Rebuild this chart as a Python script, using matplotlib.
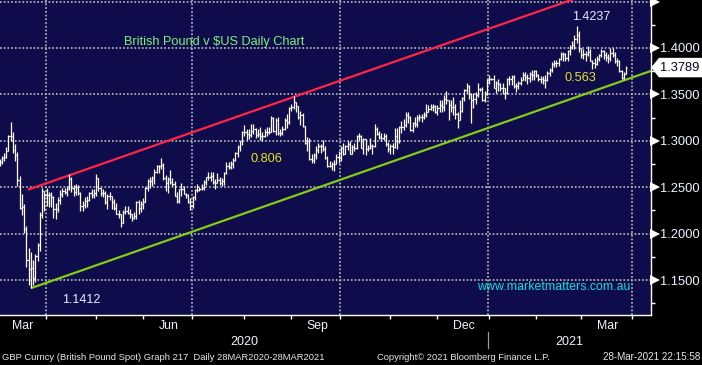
import numpy as np
import pandas as pd
import matplotlib
matplotlib.use("Agg")
import matplotlib.pyplot as plt
from matplotlib.collections import LineCollection
from matplotlib.patches import Polygon
import matplotlib.transforms as mtrans

# ---------------- data (GBPUSD daily bars, weekdays from 2 Mar 2020) ----------------
start_date = "2020-03-02"
first_open = 1.2745

closes = [
    1.2775, 1.2819, 1.2829, 1.2893, 1.3048,
    1.3047, 1.2905, 1.2849, 1.2577, 1.2275,
    1.2290, 1.2055, 1.1717, 1.1615, 1.1630,
    1.1517, 1.1763, 1.1880, 1.2197, 1.2456,
    1.2418, 1.2420, 1.2412, 1.2398, 1.2267,
    1.2265, 1.2361, 1.2431, 1.2457, 1.2450,
    1.2483, 1.2589, 1.2489, 1.2448, 1.2497,
    1.2436, 1.2296, 1.2313, 1.2351, 1.2367,
    1.2433, 1.2414, 1.2440, 1.2597, 1.2490,
    1.2435, 1.2437, 1.2340, 1.2406, 1.2405,
    1.2341, 1.2275, 1.2216, 1.2210, 1.2117,
    1.2235, 1.2242, 1.2226, 1.2214, 1.2166,
    1.2186, 1.2336, 1.2272, 1.2318, 1.2343,
    1.2488, 1.2567, 1.2567, 1.2595, 1.2669,
    1.2732, 1.2733, 1.2737, 1.2599, 1.2548,
    1.2589, 1.2552, 1.2538, 1.2407, 1.2348,
    1.2477, 1.2480, 1.2431, 1.2418, 1.2336,
    1.2297, 1.2396, 1.2475, 1.2470, 1.2484,
    1.2489, 1.2555, 1.2608, 1.2611, 1.2618,
    1.2559, 1.2550, 1.2581, 1.2547, 1.2568,
    1.2650, 1.2727, 1.2722, 1.2752, 1.2793,
    1.2866, 1.2938, 1.2993, 1.3091, 1.3091,
    1.3074, 1.3058, 1.3107, 1.3128, 1.3059,
    1.3070, 1.3055, 1.3049, 1.3096, 1.3092,
    1.3095, 1.3242, 1.3104, 1.3222, 1.3088,
    1.3089, 1.3129, 1.3220, 1.3202, 1.3351,
    1.3368, 1.3416, 1.3379, 1.3261, 1.3274,
    1.3159, 1.2976, 1.3002, 1.2807, 1.2796,
    1.2851, 1.2898, 1.2944, 1.2945, 1.2916,
    1.2817, 1.2727, 1.2728, 1.2747, 1.2747,
    1.2829, 1.2819, 1.2920, 1.2861, 1.2942,
    1.2966, 1.2863, 1.2938, 1.2920, 1.3049,
    1.3050, 1.2924, 1.3016, 1.2911, 1.2917,
    1.2949, 1.2947, 1.3126, 1.3075, 1.3043,
    1.3028, 1.3051, 1.2970, 1.2916, 1.2940,
    1.2933, 1.3049, 1.2995, 1.3147, 1.3150,
    1.3175, 1.3275, 1.3259, 1.3116, 1.3191,
    1.3180, 1.3249, 1.3255, 1.3258, 1.3282,
    1.3313, 1.3347, 1.3365, 1.3372, 1.3315,
    1.3349, 1.3383, 1.3361, 1.3450, 1.3443,
    1.3385, 1.3363, 1.3365, 1.3285, 1.3229,
    1.3321, 1.3464, 1.3547, 1.3587, 1.3509,
    1.3442, 1.3445, 1.3494, 1.3555, 1.3553,
    1.3435, 1.3502, 1.3660, 1.3670, 1.3670,
    1.3571, 1.3620, 1.3610, 1.3569, 1.3565,
    1.3519, 1.3669, 1.3661, 1.3685, 1.3590,
    1.3589, 1.3622, 1.3657, 1.3713, 1.3685,
    1.3679, 1.3725, 1.3707, 1.3754, 1.3705,
    1.3671, 1.3664, 1.3660, 1.3655, 1.3734,
    1.3762, 1.3830, 1.3838, 1.3840, 1.3886,
    1.3935, 1.3940, 1.3888, 1.3967, 1.4013,
    1.4032, 1.4101, 1.4144, 1.3995, 1.3926,
    1.3936, 1.3938, 1.3961, 1.3863, 1.3834,
    1.3832, 1.3885, 1.3924, 1.3970, 1.3926,
    1.3908, 1.3889, 1.3947, 1.3928, 1.3864,
    1.3862, 1.3750, 1.3675, 1.3716, 1.3789,
]

highs = [
    1.2808, 1.2838, 1.2865, 1.2930, 1.3060,
    1.3200, 1.3098, 1.2961, 1.2877, 1.2617,
    1.2431, 1.2319, 1.2085, 1.1846, 1.1800,
    1.1718, 1.1783, 1.1894, 1.2233, 1.2486,
    1.2464, 1.2486, 1.2446, 1.2444, 1.2402,
    1.2328, 1.2391, 1.2466, 1.2486, 1.2488,
    1.2512, 1.2647, 1.2614, 1.2528, 1.2538,
    1.2528, 1.2443, 1.2354, 1.2390, 1.2400,
    1.2443, 1.2485, 1.2485, 1.2643, 1.2593,
    1.2495, 1.2485, 1.2460, 1.2422, 1.2451,
    1.2410, 1.2378, 1.2327, 1.2252, 1.2215,
    1.2259, 1.2296, 1.2297, 1.2268, 1.2216,
    1.2230, 1.2349, 1.2363, 1.2354, 1.2384,
    1.2500, 1.2585, 1.2614, 1.2620, 1.2693,
    1.2741, 1.2738, 1.2813, 1.2763, 1.2634,
    1.2610, 1.2687, 1.2598, 1.2562, 1.2453,
    1.2482, 1.2544, 1.2516, 1.2442, 1.2423,
    1.2389, 1.2405, 1.2481, 1.2532, 1.2498,
    1.2535, 1.2576, 1.2615, 1.2665, 1.2659,
    1.2668, 1.2592, 1.2648, 1.2612, 1.2594,
    1.2666, 1.2769, 1.2768, 1.2783, 1.2816,
    1.2883, 1.2956, 1.3000, 1.3105, 1.3170,
    1.3132, 1.3124, 1.3185, 1.3185, 1.3143,
    1.3127, 1.3144, 1.3097, 1.3129, 1.3145,
    1.3150, 1.3267, 1.3252, 1.3245, 1.3252,
    1.3125, 1.3161, 1.3244, 1.3287, 1.3363,
    1.3395, 1.3482, 1.3414, 1.3372, 1.3320,
    1.3298, 1.3163, 1.3036, 1.3032, 1.2859,
    1.2873, 1.2942, 1.2981, 1.2964, 1.3008,
    1.2943, 1.2836, 1.2781, 1.2771, 1.2790,
    1.2856, 1.2893, 1.2945, 1.2978, 1.2950,
    1.2996, 1.2996, 1.2958, 1.2979, 1.3063,
    1.3083, 1.3065, 1.3027, 1.3023, 1.2958,
    1.3027, 1.2970, 1.3177, 1.3148, 1.3105,
    1.3079, 1.3089, 1.3071, 1.2991, 1.2966,
    1.2973, 1.3139, 1.3140, 1.3159, 1.3209,
    1.3240, 1.3313, 1.3310, 1.3262, 1.3203,
    1.3255, 1.3274, 1.3290, 1.3290, 1.3310,
    1.3396, 1.3390, 1.3398, 1.3392, 1.3388,
    1.3384, 1.3443, 1.3440, 1.3497, 1.3539,
    1.3433, 1.3440, 1.3468, 1.3393, 1.3309,
    1.3435, 1.3469, 1.3560, 1.3625, 1.3597,
    1.3497, 1.3514, 1.3526, 1.3625, 1.3570,
    1.3575, 1.3539, 1.3670, 1.3704, 1.3680,
    1.3704, 1.3643, 1.3669, 1.3625, 1.3623,
    1.3566, 1.3678, 1.3703, 1.3711, 1.3710,
    1.3627, 1.3646, 1.3691, 1.3746, 1.3745,
    1.3720, 1.3743, 1.3759, 1.3759, 1.3760,
    1.3720, 1.3703, 1.3702, 1.3705, 1.3748,
    1.3781, 1.3848, 1.3866, 1.3866, 1.3894,
    1.3953, 1.3952, 1.3950, 1.3978, 1.4036,
    1.4080, 1.4143, 1.4237, 1.4181, 1.4005,
    1.3994, 1.3967, 1.4017, 1.3990, 1.3870,
    1.3887, 1.3911, 1.3935, 1.3988, 1.3982,
    1.3952, 1.3935, 1.4000, 1.4001, 1.3957,
    1.3890, 1.3868, 1.3763, 1.3737, 1.3811,
]

lows = [
    1.2725, 1.2745, 1.2779, 1.2810, 1.2920,
    1.2995, 1.2870, 1.2786, 1.2516, 1.2260,
    1.2199, 1.2004, 1.1636, 1.1450, 1.1412,
    1.1450, 1.1475, 1.1700, 1.1814, 1.2173,
    1.2241, 1.2296, 1.2290, 1.2290, 1.2165,
    1.2161, 1.2237, 1.2323, 1.2393, 1.2422,
    1.2407, 1.2472, 1.2448, 1.2409, 1.2420,
    1.2414, 1.2248, 1.2247, 1.2281, 1.2282,
    1.2350, 1.2389, 1.2386, 1.2406, 1.2461,
    1.2400, 1.2397, 1.2315, 1.2265, 1.2364,
    1.2266, 1.2255, 1.2207, 1.2163, 1.2076,
    1.2120, 1.2206, 1.2207, 1.2170, 1.2135,
    1.2159, 1.2155, 1.2215, 1.2235, 1.2265,
    1.2348, 1.2464, 1.2496, 1.2518, 1.2536,
    1.2650, 1.2648, 1.2696, 1.2574, 1.2464,
    1.2437, 1.2535, 1.2509, 1.2400, 1.2335,
    1.2333, 1.2406, 1.2425, 1.2380, 1.2332,
    1.2252, 1.2280, 1.2358, 1.2444, 1.2456,
    1.2465, 1.2471, 1.2525, 1.2579, 1.2567,
    1.2534, 1.2479, 1.2540, 1.2522, 1.2516,
    1.2528, 1.2640, 1.2692, 1.2692, 1.2712,
    1.2780, 1.2830, 1.2894, 1.2954, 1.3057,
    1.3006, 1.3020, 1.3044, 1.3077, 1.3026,
    1.3039, 1.3007, 1.3002, 1.3037, 1.3057,
    1.3071, 1.3098, 1.3094, 1.3058, 1.3059,
    1.3054, 1.3062, 1.3118, 1.3135, 1.3176,
    1.3320, 1.3347, 1.3305, 1.3234, 1.3174,
    1.3152, 1.2969, 1.2885, 1.2797, 1.2764,
    1.2761, 1.2808, 1.2868, 1.2864, 1.2890,
    1.2803, 1.2718, 1.2719, 1.2688, 1.2677,
    1.2747, 1.2765, 1.2777, 1.2846, 1.2857,
    1.2906, 1.2855, 1.2863, 1.2892, 1.2910,
    1.3007, 1.2918, 1.2863, 1.2847, 1.2893,
    1.2915, 1.2862, 1.2934, 1.3058, 1.3020,
    1.2999, 1.3004, 1.2941, 1.2880, 1.2854,
    1.2854, 1.2919, 1.2916, 1.2977, 1.3080,
    1.3115, 1.3145, 1.3195, 1.3106, 1.3100,
    1.3153, 1.3149, 1.3214, 1.3199, 1.3236,
    1.3254, 1.3309, 1.3330, 1.3320, 1.3300,
    1.3278, 1.3309, 1.3308, 1.3319, 1.3398,
    1.3226, 1.3311, 1.3282, 1.3230, 1.3135,
    1.3244, 1.3308, 1.3428, 1.3513, 1.3452,
    1.3188, 1.3350, 1.3398, 1.3475, 1.3535,
    1.3427, 1.3423, 1.3492, 1.3617, 1.3660,
    1.3566, 1.3517, 1.3539, 1.3534, 1.3500,
    1.3451, 1.3499, 1.3601, 1.3596, 1.3574,
    1.3523, 1.3563, 1.3597, 1.3653, 1.3640,
    1.3612, 1.3637, 1.3660, 1.3660, 1.3686,
    1.3641, 1.3623, 1.3615, 1.3567, 1.3648,
    1.3698, 1.3736, 1.3794, 1.3796, 1.3803,
    1.3875, 1.3860, 1.3860, 1.3858, 1.3925,
    1.3988, 1.3994, 1.4050, 1.3961, 1.3887,
    1.3879, 1.3859, 1.3913, 1.3856, 1.3778,
    1.3779, 1.3822, 1.3858, 1.3899, 1.3883,
    1.3860, 1.3833, 1.3862, 1.3901, 1.3838,
    1.3806, 1.3740, 1.3668, 1.3670, 1.3718,
]

# channel lines (bar index, price)
red_x = [12.7, 260.0]
red_y = [1.2473, 1.4563]
green_x = [14.0, 290.1]
green_y = [1.1412, 1.3753]

last_price = 1.3789
ytick_values = [1.15, 1.20, 1.25, 1.30, 1.35, 1.40, 1.45]
ylabel_values = [1.15, 1.20, 1.25, 1.30, 1.35, 1.40]
month_labels = ["Mar", "Jun", "Sep", "Dec", "Mar"]
month_label_keys = ["2020-03", "2020-06", "2020-09", "2020-12", "2021-03"]
year_labels = ["2020", "2021"]

# ---------------- figure ----------------
W, H = 702, 365
fig = plt.figure(figsize=(W / 100, H / 100), dpi=100, facecolor="black")
FONT = "Liberation Sans"
plt.rcParams["font.family"] = [FONT, "DejaVu Sans"]

ax_left, ax_right, ax_top, ax_bottom = 0, 651, 0, 315
ax = fig.add_axes([ax_left / W, 1 - ax_bottom / H, (ax_right - ax_left) / W,
                   (ax_bottom - ax_top) / H])
ax.set_facecolor("#0e0c4a")

XMIN, XMAX = 0.22, 290.1
YMIN, YMAX = 1.1123, 1.4517
ax.set_xlim(XMIN, XMAX)
ax.set_ylim(YMIN, YMAX)

# axis calendar (weekdays) for ticks
axis_dates = pd.bdate_range(start_date, "2021-04-30")
ser = pd.Series(np.arange(len(axis_dates)), index=axis_dates)
month_end = ser.groupby(axis_dates.to_period("M")).max()
month_keys = [str(p) for p in month_end.index]
month_end_pos = {k: v for k, v in zip(month_keys, month_end.values)}

# gridlines
grid_kw = dict(color="#b4b4b4", lw=1.25, linestyle=(0, (1.0, 1.15)), zorder=1)
for v in ytick_values:
    ax.axhline(v, **grid_kw)
for k in ["2020-03", "2020-06", "2020-09", "2020-12", "2021-03"]:
    ax.axvline(month_end_pos[k] - 0.3, **grid_kw)

# channel lines
ax.plot(red_x, red_y, color="#ff2448", lw=1.6, zorder=3, solid_capstyle="butt")
ax.plot(green_x, green_y, color="#84cc16", lw=1.6, zorder=3, solid_capstyle="butt")

# OHLC bars
n = len(closes)
c = np.array(closes)
h = np.array(highs)
l = np.array(lows)
o = np.r_[first_open, c[:-1]]
segs = []
for i in range(n):
    lo = min(l[i], o[i], c[i])
    hi = max(h[i], o[i], c[i])
    segs.append([(i, lo), (i, hi)])
    segs.append([(i - 0.5, o[i]), (i, o[i])])
    segs.append([(i, c[i]), (i + 0.5, c[i])])
ax.add_collection(LineCollection(segs, colors="white", linewidths=0.9, zorder=4))

# spines
for s in ["top", "left"]:
    ax.spines[s].set_visible(False)
for s in ["right", "bottom"]:
    ax.spines[s].set_color("white")
    ax.spines[s].set_linewidth(1.0)

# y axis ticks on right
ax.yaxis.tick_right()
ax.set_yticks(ylabel_values)
ax.set_yticklabels([f"{v:.4f}" for v in ylabel_values])
ax.tick_params(axis="y", which="major", length=0, pad=6.6, colors="white",
               labelcolor="#eef4ff", labelsize=9.3)
ax.set_yticks(np.arange(1.125, 1.45, 0.05), minor=True)
ax.tick_params(axis="y", which="minor", length=3, width=1.0, colors="white",
               direction="out")
ax.tick_params(axis="y", which="both", left=False, right=True)

# triangle markers for major ticks
tri_tr = mtrans.blended_transform_factory(ax.transAxes, ax.transData) + \
    mtrans.ScaledTranslation(3.6 / 100, 0, fig.dpi_scale_trans)
ax.plot([1.0] * len(ytick_values), ytick_values, linestyle="none", marker=">",
        ms=6.5, mfc="white", mec="white", mew=0, transform=tri_tr, clip_on=False,
        zorder=6)

# x axis month ticks
mticks = [month_end_pos[k] - 0.2 for k in month_keys
          if XMIN < month_end_pos[k] - 0.2 < XMAX]
ax.set_xticks(mticks)
ax.set_xticklabels([])
ax.tick_params(axis="x", which="major", length=3, width=1.0, colors="white",
               direction="out")

# month labels centred in month
bx = mtrans.blended_transform_factory(ax.transData, fig.transFigure)
for lab, key in zip(month_labels, month_label_keys):
    j = month_keys.index(key)
    prev = month_end_pos[month_keys[j - 1]] if j > 0 else -1
    cx = (prev + month_end_pos[key]) / 2 + 0.3
    ax.text(cx, 1 - 326 / H, lab, transform=bx, ha="center", va="center",
            color="#eef4ff", fontsize=8.8, clip_on=False)

# year labels
yb = month_end_pos["2020-12"] - 0.3
ax.text((XMIN + yb) / 2, 1 - 342 / H, year_labels[0], transform=bx, ha="center",
        va="center", color="#eef4ff", fontsize=9, clip_on=False)
ax.text((yb + XMAX) / 2, 1 - 342 / H, year_labels[1], transform=bx, ha="center",
        va="center", color="#eef4ff", fontsize=9, clip_on=False)
ax.plot([yb, yb], [1 - 332 / H, 1 - 348 / H], color="#9a9a9a", lw=0.9,
        transform=bx, clip_on=False)

# annotations
ax.text(95.5, 1.4065, "British Pound v $US Daily Chart", color="#7ef07e",
        fontsize=9.2, ha="center", va="center", zorder=7)
ax.text(118.7, 1.2804, "0.806", color="#e6e620", fontsize=9.2, ha="center",
        va="center", zorder=7)
ax.text(258.7, 1.3677, "0.563", color="#e6e620", fontsize=9.2, ha="center",
        va="center", zorder=7)
ax.text(263.3, 1.4334, "1.4237", color="#e4ecff", fontsize=9, ha="center",
        va="center", zorder=7)
ax.text(36.3, 1.1284, "1.1412", color="#e4ecff", fontsize=9, ha="center",
        va="center", zorder=7)
ax.text(246.7, 1.1424, "www.marketmatters.com.au", color="#12dede", fontsize=8.9,
        ha="center", va="center", zorder=7)

# last price box with arrow
fy = mtrans.blended_transform_factory(fig.transFigure, ax.transData)
dy = 0.0105
poly = Polygon([(651 / W, last_price), (659 / W, last_price + dy),
                (702 / W, last_price + dy), (702 / W, last_price - dy),
                (659 / W, last_price - dy)], closed=True, transform=fy,
               facecolor="white", edgecolor="none", clip_on=False, zorder=8)
fig.add_artist(poly)
fig.text(679.5 / W, last_price, f"{last_price:.4f}", transform=fy, color="#050520",
         fontsize=9.3, ha="center", va="center", zorder=9)

# footer texts, fitted to widths
renderer = fig.canvas.get_renderer()


def fit_text(x, y, s, width, ha, color):
    t = fig.text(x / W, 1 - y / H, s, ha=ha, va="center", color=color, fontsize=7)
    w = t.get_window_extent(renderer=renderer).width
    t.set_fontsize(7 * width / w)
    return t


fit_text(2, 357, "GBP Curncy (British Pound Spot) Graph 217  Daily 28MAR2020-28MAR2021",
         320, "left", "#e8e8e8")
fit_text(377, 357, "Copyright\u00a9 2021 Bloomberg Finance L.P.", 171, "left", "#e8e8e8")
fit_text(700, 357, "28-Mar-2021 22:15:58", 97, "right", "#e8e8e8")

fig.savefig("out.png", dpi=100, facecolor="black")
